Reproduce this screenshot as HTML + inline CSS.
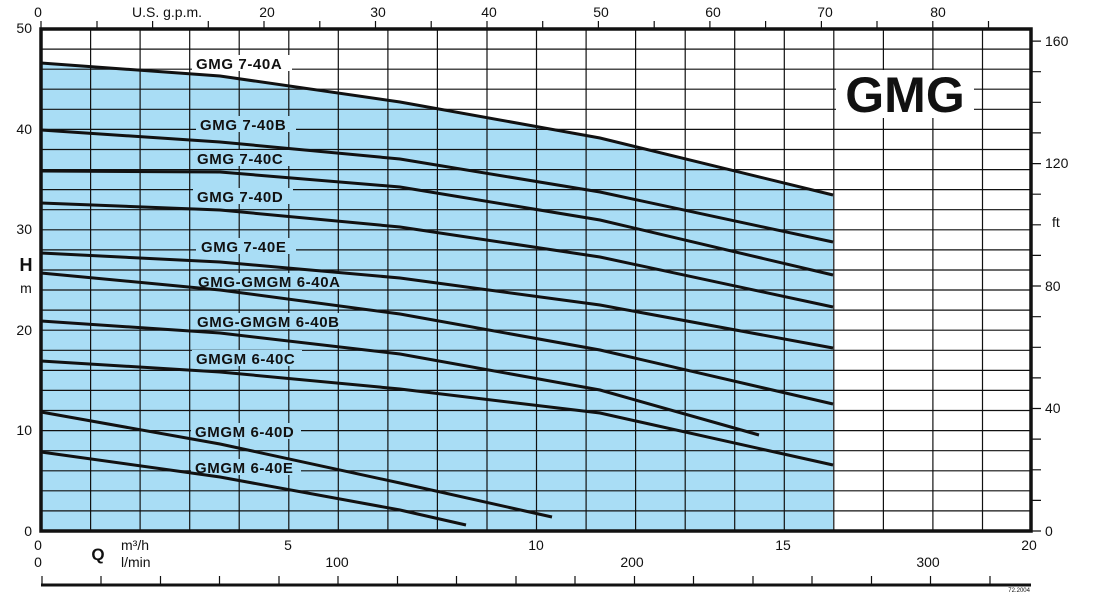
<!DOCTYPE html>
<html><head><meta charset="utf-8"><style>
html,body{margin:0;padding:0;background:#fff;}
svg{display:block;}
text{font-family:"Liberation Sans",Arial,sans-serif;fill:#111;}
.t{font-size:14px;}
.l{font-size:15px;font-weight:bold;letter-spacing:0.6px;}
</style></head><body>
<svg width="1093" height="614" viewBox="0 0 1093 614" xmlns="http://www.w3.org/2000/svg">
<path d="M41 63L220 76L400 102L600 138L833 195V531H41Z" fill="#a9ddf5"/>
<g stroke="#111" stroke-width="1.2">
<path d="M90.6 29V531M140.1 29V531M189.7 29V531M239.2 29V531M288.8 29V531M338.3 29V531M387.9 29V531M437.4 29V531M487 29V531M536.5 29V531M586.1 29V531M635.6 29V531M685.2 29V531M734.7 29V531M784.3 29V531M833.8 29V531M883.4 29V531M932.9 29V531M982.5 29V531"/>
<path d="M41 510.9H1031M41 490.8H1031M41 470.8H1031M41 450.7H1031M41 430.6H1031M41 410.5H1031M41 390.4H1031M41 370.4H1031M41 350.3H1031M41 330.2H1031M41 310.1H1031M41 290H1031M41 270H1031M41 249.9H1031M41 229.8H1031M41 209.7H1031M41 189.6H1031M41 169.6H1031M41 149.5H1031M41 129.4H1031M41 109.3H1031M41 89.2H1031M41 69.2H1031M41 49.1H1031"/>
</g>
<rect x="836" y="70" width="138" height="48" fill="#fff"/>
<text x="905" y="112" text-anchor="middle" style="font-size:50px;font-weight:bold">GMG</text>
<g>
<rect x="192" y="55" width="100" height="16" fill="#fff"/>
<text class="l" x="196" y="69">GMG 7-40A</text>
<rect x="196" y="116" width="100" height="16" fill="#a9ddf5"/>
<text class="l" x="200" y="130">GMG 7-40B</text>
<rect x="193" y="150" width="100" height="16" fill="#a9ddf5"/>
<text class="l" x="197" y="164">GMG 7-40C</text>
<rect x="193" y="188" width="100" height="16" fill="#a9ddf5"/>
<text class="l" x="197" y="202">GMG 7-40D</text>
<rect x="196" y="238" width="100" height="16" fill="#a9ddf5"/>
<text class="l" x="201" y="252">GMG 7-40E</text>
<rect x="194" y="273" width="156" height="16" fill="#a9ddf5"/>
<text class="l" x="198" y="287">GMG-GMGM 6-40A</text>
<rect x="193" y="313" width="156" height="16" fill="#a9ddf5"/>
<text class="l" x="197" y="327">GMG-GMGM 6-40B</text>
<rect x="192" y="350" width="110" height="16" fill="#a9ddf5"/>
<text class="l" x="196" y="364">GMGM 6-40C</text>
<rect x="191" y="423" width="110" height="16" fill="#a9ddf5"/>
<text class="l" x="195" y="437">GMGM 6-40D</text>
<rect x="191" y="459" width="110" height="16" fill="#a9ddf5"/>
<text class="l" x="195" y="473">GMGM 6-40E</text>
</g>
<g fill="none" stroke="#111" stroke-width="3">
<polyline points="41,63 220,76 400,102 600,138 833,195"/>
<polyline points="41,130 220,142 400,159 600,192 833,242"/>
<polyline points="41,171 220,172 400,187 600,220 833,275"/>
<polyline points="41,203 220,210 400,227 600,257 833,307"/>
<polyline points="41,253 220,262 400,278 600,305 833,348"/>
<polyline points="41,273 220,290 400,314 600,350 833,404"/>
<polyline points="41,321 220,333 400,354 600,390 759,435"/>
<polyline points="41,361 220,372 400,389 600,413 833,465"/>
<polyline points="41,412 220,444 400,483 552,517"/>
<polyline points="41,452 220,477 400,510 466,525"/>
</g>
<rect x="41" y="29" width="990" height="502" fill="none" stroke="#111" stroke-width="3.5"/>
<path stroke="#111" stroke-width="1.2" d="M41 21V29M97 21V29M152.6 21V29M208.3 21V29M264 21V29M319.8 21V29M375.5 21V29M431.2 21V29M487 21V29M542.7 21V29M598.4 21V29M654.2 21V29M709.9 21V29M765.6 21V29M821.4 21V29M877 21V29M932.8 21V29M988.5 21V29"/>
<text class="t" x="38" y="17" text-anchor="middle">0</text>
<text class="t" x="167" y="17" text-anchor="middle">U.S. g.p.m.</text>
<text class="t" x="267" y="17" text-anchor="middle">20</text>
<text class="t" x="378" y="17" text-anchor="middle">30</text>
<text class="t" x="489" y="17" text-anchor="middle">40</text>
<text class="t" x="601" y="17" text-anchor="middle">50</text>
<text class="t" x="713" y="17" text-anchor="middle">60</text>
<text class="t" x="825" y="17" text-anchor="middle">70</text>
<text class="t" x="938" y="17" text-anchor="middle">80</text>
<text class="t" x="32" y="33" text-anchor="end">50</text>
<text class="t" x="32" y="134" text-anchor="end">40</text>
<text class="t" x="32" y="234" text-anchor="end">30</text>
<text class="t" x="32" y="335" text-anchor="end">20</text>
<text class="t" x="32" y="435" text-anchor="end">10</text>
<text class="t" x="32" y="536" text-anchor="end">0</text>
<text x="26" y="271" text-anchor="middle" style="font-size:18px;font-weight:bold">H</text>
<text class="t" x="26" y="293" text-anchor="middle">m</text>
<path stroke="#111" stroke-width="1.2" d="M1031 531H1041M1031 500.4H1041M1031 469.8H1041M1031 439.1H1041M1031 408.5H1041M1031 377.9H1041M1031 347.3H1041M1031 316.7H1041M1031 286H1041M1031 255.4H1041M1031 224.8H1041M1031 194.2H1041M1031 163.6H1041M1031 132.9H1041M1031 102.3H1041M1031 71.7H1041M1031 41.1H1041"/>
<text class="t" x="1045" y="536">0</text>
<text class="t" x="1045" y="413">40</text>
<text class="t" x="1045" y="291">80</text>
<text class="t" x="1045" y="168">120</text>
<text class="t" x="1045" y="46">160</text>
<text class="t" x="1052" y="227">ft</text>
<text class="t" x="38" y="550" text-anchor="middle">0</text>
<text class="t" x="288" y="550" text-anchor="middle">5</text>
<text class="t" x="536" y="550" text-anchor="middle">10</text>
<text class="t" x="783" y="550" text-anchor="middle">15</text>
<text class="t" x="1029" y="550" text-anchor="middle">20</text>
<text x="98" y="560" text-anchor="middle" style="font-size:17px;font-weight:bold">Q</text>
<text class="t" x="121" y="550">m³/h</text>
<text class="t" x="121" y="567">l/min</text>
<text class="t" x="38" y="567" text-anchor="middle">0</text>
<text class="t" x="337" y="567" text-anchor="middle">100</text>
<text class="t" x="632" y="567" text-anchor="middle">200</text>
<text class="t" x="928" y="567" text-anchor="middle">300</text>
<path stroke="#111" stroke-width="3" d="M41 585H1031"/>
<path stroke="#111" stroke-width="1.2" d="M42 576V585M101 576V585M160.5 576V585M219.5 576V585M279 576V585M338 576V585M397.5 576V585M456.5 576V585M516 576V585M575 576V585M634.5 576V585M693.5 576V585M753 576V585M812 576V585M871.5 576V585M930.5 576V585M990 576V585"/>
<text x="1030" y="592" text-anchor="end" style="font-size:6px">72.2004</text>
</svg>
</body></html>
